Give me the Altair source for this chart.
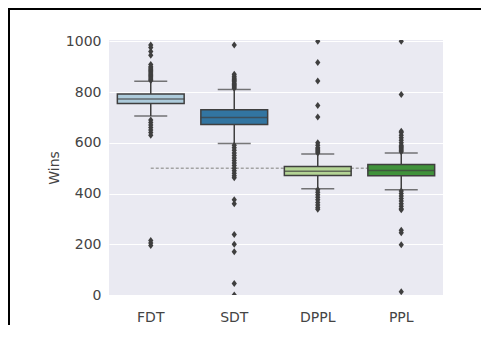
import altair as alt
import pandas as pd

categories = ["FDT", "SDT", "DPPL", "PPL"]
box_colors = ["#adcbdb", "#3275a1", "#b4d495", "#40923b"]
q1 = [755, 672, 471, 470]
median = [772, 700, 488, 491]
q3 = [792, 730, 506, 514]
whisker_lo = [705, 597, 419, 415]
whisker_hi = [842, 810, 556, 560]

outliers_fdt = [845, 850, 855, 860, 865, 870, 875, 880, 885, 890, 895, 900, 908,
                945, 960, 975, 985,
                690, 680, 670, 660, 650, 640, 630, 215, 205, 195]
outliers_sdt = [815, 820, 825, 830, 835, 840, 845, 850, 855, 862, 870, 985,
                590, 580, 570, 560, 550, 540, 530, 520, 510, 500, 490, 480, 470, 462,
                375, 360, 238, 200, 170, 45, 0]
outliers_dppl = [560, 565, 570, 575, 580, 590, 600, 702, 747, 843, 916, 1000,
                 415, 405, 395, 385, 375, 365, 355, 345, 338]
outliers_ppl = [565, 570, 575, 580, 585, 590, 600, 610, 620, 630, 640, 645, 790, 1000,
                410, 400, 390, 380, 370, 360, 350, 340, 336, 255, 245, 198, 13]

reference_value = 500
y_ticks = [0, 200, 400, 600, 800, 1000]
y_domain = [0, 1005]

box_df = pd.DataFrame({"cat": categories, "q1": q1, "median": median, "q3": q3,
                       "lo": whisker_lo, "hi": whisker_hi})
out_rows = []
for c, vals in zip(categories, [outliers_fdt, outliers_sdt, outliers_dppl, outliers_ppl]):
    for v in vals:
        out_rows.append({"cat": c, "wins": v})
out_df = pd.DataFrame(out_rows)
ref_df = pd.DataFrame({"start": [categories[0]], "end": [categories[-1]], "y": [reference_value]})

W, H = 334, 255
GRAY = "#3f3f3f"
xscale = alt.Scale(domain=categories, paddingInner=0, paddingOuter=0)
yscale = alt.Scale(domain=y_domain, nice=False, zero=False)

x_axis = alt.Axis(title=None, labelAngle=0, labelAlign="center", labelBaseline="middle",
                  domain=False, ticks=False, labelPadding=22, grid=False)
x_enc = alt.X("cat:N", scale=xscale, sort=categories, axis=x_axis)
y_axis = alt.Axis(title="Wins", values=y_ticks, format="d", grid=True, gridColor="white",
                  gridWidth=1.2, domain=False, ticks=False, labelPadding=8, titlePadding=4)

ref = alt.Chart(ref_df).mark_rule(color="#a3a3a3", strokeDash=[3, 2], strokeWidth=1.5).encode(
    x=alt.X("start:N", scale=xscale, sort=categories, axis=x_axis),
    x2="end:N",
    y=alt.Y("y:Q", scale=yscale, axis=y_axis),
)

base = alt.Chart(box_df)
whisk = base.mark_rule(color=GRAY, strokeWidth=1.5).encode(
    x=x_enc, y=alt.Y("lo:Q", scale=yscale, axis=y_axis), y2="hi:Q")
box = base.mark_bar(width=alt.RelativeBandSize(0.8), stroke=GRAY, strokeWidth=1.5).encode(
    x=x_enc, y=alt.Y("q1:Q", scale=yscale), y2="q3:Q",
    color=alt.Color("cat:N", scale=alt.Scale(domain=categories, range=box_colors), legend=None))
med = base.mark_tick(color=GRAY, size=67, thickness=1.5).encode(
    x=x_enc, y=alt.Y("median:Q", scale=yscale))
cap_lo = base.mark_tick(color=GRAY, size=33, thickness=1.5).encode(
    x=x_enc, y=alt.Y("lo:Q", scale=yscale))
cap_hi = base.mark_tick(color=GRAY, size=33, thickness=1.5).encode(
    x=x_enc, y=alt.Y("hi:Q", scale=yscale))
pts = alt.Chart(out_df).mark_point(shape="M0,-1L0.75,0L0,1L-0.75,0Z", filled=True, size=49,
                                   color=GRAY, opacity=1, clip=True).encode(
    x=x_enc, y=alt.Y("wins:Q", scale=yscale))

frame_data = alt.Data(values=[{}])
frame_top = alt.Chart(frame_data).mark_rule(color="black", strokeWidth=2).encode(
    x=alt.value(-100), x2=alt.value(W + 40), y=alt.value(-31))
frame_left = alt.Chart(frame_data).mark_rule(color="black", strokeWidth=2).encode(
    x=alt.value(-100), y=alt.value(-32), y2=alt.value(H + 40))

chart = alt.layer(ref, whisk, box, med, cap_lo, cap_hi, pts, frame_top, frame_left).properties(
    width=W, height=H,
    autosize=alt.AutoSizeParams(type="none"),
    padding={"left": 101, "top": 32, "right": 38, "bottom": 30},
).configure_view(fill="#eaeaf2", stroke=None).configure_axis(
    labelFont="DejaVu Sans", titleFont="DejaVu Sans", labelFontSize=14, titleFontSize=14,
    labelColor="#444444", titleColor="#444444", titleFontWeight="normal"
)

chart.save("out.html", embed_options={"renderer": "svg", "actions": False})
